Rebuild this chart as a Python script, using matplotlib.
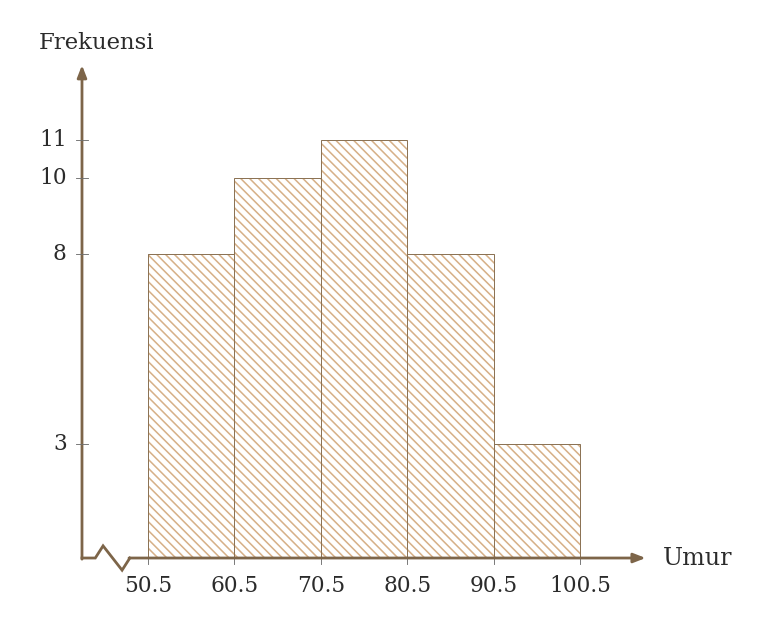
import matplotlib
matplotlib.use("Agg")
import matplotlib.pyplot as plt

# data
edges = [50.5, 60.5, 70.5, 80.5, 90.5, 100.5]
freq = [8, 10, 11, 8, 3]
yticks = [3, 8, 10, 11]

AXIS = "#7d6549"
EDGE = "#8c7355"
HATCH = "#d6b088"
TEXT = "#2b2b2b"

plt.rcParams["font.family"] = ["DejaVu Serif"]
plt.rcParams["hatch.linewidth"] = 1.4

fig = plt.figure(figsize=(775 / 80, 629 / 80), dpi=80)
ax = fig.add_axes([0, 0, 1, 1])
ax.set_xlim(33.37, 123.07)
ax.set_ylim(-1.868, 14.684)
ax.axis("off")

x0 = 42.86  # where the axes cross
lefts = edges[:-1]
widths = [b - a for a, b in zip(edges[:-1], edges[1:])]

# hatched fill, then outline on top
ax.bar(lefts, freq, width=widths, align="edge", color="none",
       edgecolor=HATCH, hatch="\\\\\\", linewidth=0, zorder=2)
ax.bar(lefts, freq, width=widths, align="edge", color="none",
       edgecolor=EDGE, linewidth=0.9, zorder=3)

# x axis with the break
zz_x = [x0, 44.4, 45.3, 47.5, 48.4]
zz_y = [0, 0, 0.32, -0.32, 0]
arrow = dict(arrowstyle="-|>,head_length=0.9,head_width=0.35",
             color=AXIS, lw=2.5, shrinkA=0, shrinkB=0)
ax.plot(zz_x, zz_y, color=AXIS, lw=2.5, solid_joinstyle="miter", zorder=4)
ax.annotate("", xy=(108.1, 0), xytext=(48.3, 0), arrowprops=arrow, zorder=4)
# y axis
ax.annotate("", xy=(x0, 12.97), xytext=(x0, -0.03), arrowprops=arrow, zorder=4)

# ticks
for e in edges:
    ax.plot([e, e], [0, -0.17], color="#6e6e6e", lw=0.8, zorder=3)
    ax.text(e, -0.45, f"{e:g}", ha="center", va="top", fontsize=19.5, color=TEXT)
for t in yticks:
    ax.plot([x0 - 0.75, x0 + 0.75], [t, t], color="#6e6e6e", lw=0.8, zorder=5)
    ax.text(41.1, t, str(t), ha="right", va="center", fontsize=19.5, color=TEXT)

ax.text(37.9, 13.55, "Frekuensi", ha="left", va="center", fontsize=20.5, color=TEXT)
ax.text(110.1, 0.0, "Umur", ha="left", va="center", fontsize=21.5, color=TEXT)

fig.savefig("out.png", dpi=80)
